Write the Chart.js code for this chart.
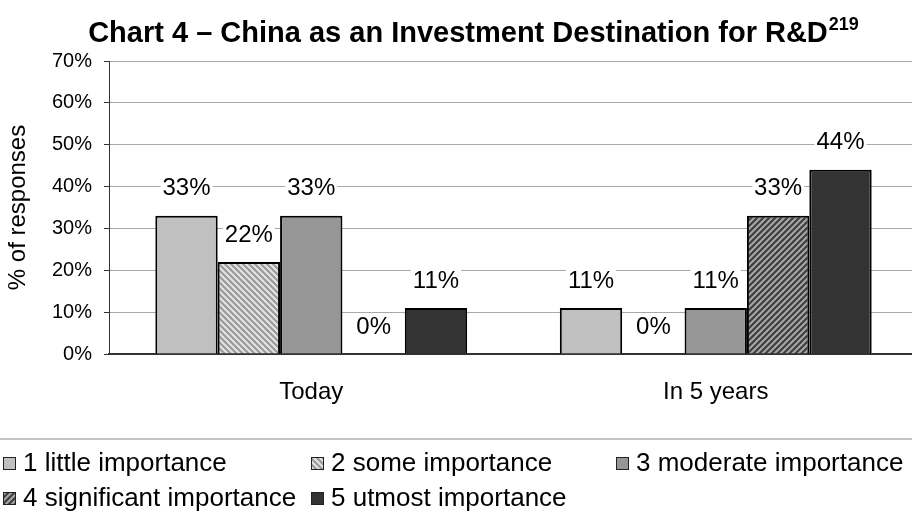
<!DOCTYPE html>
<html>
<head>
<meta charset="utf-8">
<script src="https://cdn.jsdelivr.net/npm/chart.js@4/dist/chart.umd.min.js"></script>
<style>
  html, body { margin: 0; padding: 0; background: #fff; overflow: hidden; }
  #wrap { width: 912px; height: 517px; position: relative; overflow: hidden; }
  canvas { display: block; }
</style>
</head>
<body>
<div id="wrap"><canvas id="c" width="918" height="517"></canvas></div>
<script>
// Survey: importance of China as an R&D investment destination (% of responses)
const categories = ['Today', 'In 5 years'];
const seriesNames = [
  '1 little importance',
  '2 some importance',
  '3 moderate importance',
  '4 significant importance',
  '5 utmost importance'
];
const littleImportance      = [33, 11];
const someImportance        = [22, 0];
const moderateImportance    = [33, 11];
const significantImportance = [0, 33];
const utmostImportance      = [11, 44];
const yTicks = [0, 10, 20, 30, 40, 50, 60, 70];
const chartTitle = 'Chart 4 \u2013 China as an Investment Destination for R&D';
const titleNote = '219';
const yAxisTitle = '% of responses';

const FONT = "'Liberation Sans', Arial, Helvetica, sans-serif";
const canvas = document.getElementById('c');
const ctx = canvas.getContext('2d');

// diagonal hatch fills: dir > 0 rises to the right, dir < 0 falls to the right
function hatch(base, stripe, dir) {
  const s = 6;
  const t = document.createElement('canvas');
  t.width = s; t.height = s;
  const g = t.getContext('2d');
  g.fillStyle = base;
  g.fillRect(0, 0, s, s);
  g.strokeStyle = stripe;
  g.lineWidth = 2;
  g.beginPath();
  if (dir > 0) {
    g.moveTo(-1, s + 1); g.lineTo(s + 1, -1);
    g.moveTo(-1, 1); g.lineTo(1, -1);
    g.moveTo(s - 1, s + 1); g.lineTo(s + 1, s - 1);
  } else {
    g.moveTo(-1, -1); g.lineTo(s + 1, s + 1);
    g.moveTo(s - 1, -1); g.lineTo(s + 1, 1);
    g.moveTo(-1, s - 1); g.lineTo(1, s + 1);
  }
  g.stroke();
  return ctx.createPattern(t, 'repeat');
}

const fills = [
  '#c0c0c0',
  hatch('#9a9a9a', '#e4e4e4', -1),
  '#969696',
  hatch('#3e3e3e', '#a8a8a8', 1),
  '#333333'
];
const seriesValues = [littleImportance, someImportance, moderateImportance, significantImportance, utmostImportance];

// value labels above each bar, on a white ground
const valueLabels = {
  id: 'valueLabels',
  afterDatasetsDraw(chart) {
    const c = chart.ctx;
    c.save();
    c.font = '24px ' + FONT;
    c.textAlign = 'center';
    c.textBaseline = 'middle';
    chart.data.datasets.forEach((ds, di) => {
      chart.getDatasetMeta(di).data.forEach((bar, i) => {
        const txt = ds.data[i] + '%';
        const w = c.measureText(txt).width;
        const y = bar.y - 27;
        c.fillStyle = '#fff';
        c.fillRect(bar.x - w / 2 - 2, y - 11, w + 4, 22);
        c.fillStyle = '#000';
        c.fillText(txt, bar.x, y);
      });
    });
    c.restore();
  }
};

// title with superscript note, separator rule and legend
const legendSlots = [
  { x: 3, row: 0 }, { x: 311, row: 0 }, { x: 616, row: 0 },
  { x: 3, row: 1 }, { x: 311, row: 1 }
];
const legendRows = [463, 498];

const decorations = {
  id: 'decorations',
  afterDraw(chart) {
    const c = chart.ctx;
    c.save();
    // title
    c.fillStyle = '#000';
    c.textBaseline = 'alphabetic';
    c.textAlign = 'left';
    c.font = 'bold 29px ' + FONT;
    const wMain = c.measureText(chartTitle).width;
    c.font = 'bold 18px ' + FONT;
    const wSup = c.measureText(titleNote).width;
    const x0 = 473 - (wMain + wSup) / 2;
    c.font = 'bold 29px ' + FONT;
    c.fillText(chartTitle, x0, 42);
    c.font = 'bold 18px ' + FONT;
    c.fillText(titleNote, x0 + wMain + 1, 30);

    // separator above legend
    c.strokeStyle = '#c4c4c4';
    c.lineWidth = 2;
    c.beginPath();
    c.moveTo(0, 439);
    c.lineTo(chart.width, 439);
    c.stroke();

    // legend
    c.font = '26px ' + FONT;
    c.textBaseline = 'middle';
    chart.data.datasets.forEach((ds, i) => {
      const slot = legendSlots[i];
      const cy = legendRows[slot.row];
      c.fillStyle = ds.backgroundColor;
      c.fillRect(slot.x, cy - 6, 12, 12);
      c.strokeStyle = '#222';
      c.lineWidth = 1;
      c.strokeRect(slot.x + 0.5, cy - 5.5, 12, 12);
      c.fillStyle = '#000';
      c.fillText(ds.label, slot.x + 20, cy + 1);
    });
    c.restore();
  }
};

new Chart(canvas, {
  type: 'bar',
  data: {
    labels: categories,
    datasets: seriesNames.map((name, i) => ({
      label: name,
      data: seriesValues[i],
      backgroundColor: fills[i],
      borderColor: '#000',
      borderWidth: 2,
      categoryPercentage: 0.771,
      barPercentage: 1
    }))
  },
  options: {
    responsive: false,
    animation: false,
    events: [],
    layout: { padding: { top: 61, right: 0, left: 0, bottom: 0 } },
    plugins: {
      legend: { display: false },
      title: { display: false },
      tooltip: { enabled: false }
    },
    scales: {
      x: {
        grid: { display: false, drawTicks: false },
        border: { display: true, color: '#333', width: 1.5 },
        ticks: { color: '#000', font: { family: FONT, size: 24 }, padding: 24 },
        afterFit(scale) { scale.height = 163; }
      },
      y: {
        min: 0,
        max: 70,
        afterBuildTicks(scale) { scale.ticks = yTicks.map(v => ({ value: v })); },
        grid: {
          color: c => (c.tick && c.tick.value === 0) ? '#333' : '#a8a8a8',
          tickColor: '#333',
          tickLength: 5,
          drawTicks: true
        },
        border: { display: true, color: '#333', width: 1 },
        ticks: {
          color: '#000',
          font: { family: FONT, size: 20 },
          padding: 12,
          callback: v => v + '%'
        },
        title: {
          display: true,
          text: yAxisTitle,
          color: '#000',
          font: { family: FONT, size: 24 }
        },
        afterFit(scale) { scale.width = 109; }
      }
    }
  },
  plugins: [valueLabels, decorations]
});
</script>
</body>
</html>
